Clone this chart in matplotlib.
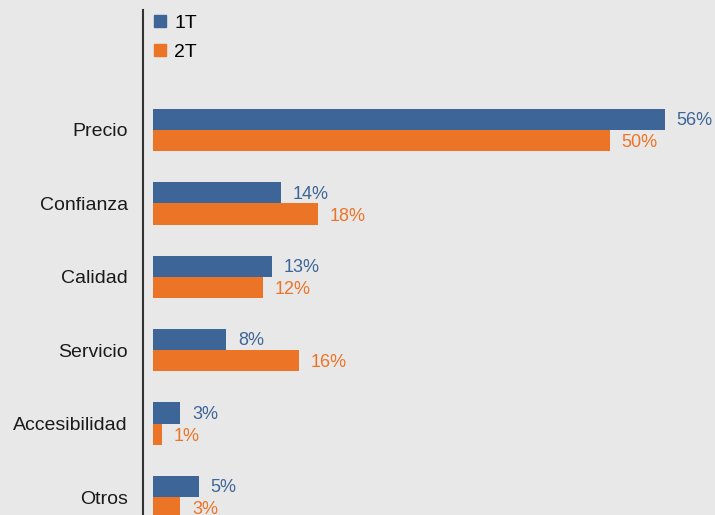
import matplotlib.pyplot as plt
from matplotlib.patches import Patch
import numpy as np

plt.rcParams['font.family'] = ['Liberation Sans', 'DejaVu Sans']

# Data
categories = ['Precio', 'Confianza', 'Calidad', 'Servicio', 'Accesibilidad', 'Otros']
t1 = [56, 14, 13, 8, 3, 5]
t2 = [50, 18, 12, 16, 1, 3]
series_names = ['1T', '2T']

blue = '#3e6597'
orange = '#ec7426'
bg = '#e8e8e8'

fig = plt.figure(figsize=(7.15, 5.15), dpi=100, facecolor=bg)
# axes: left edge at the vertical line, full to right and bottom
ax = fig.add_axes([143 / 715, 0, 1 - 143 / 715, 1 - 10 / 515])
ax.set_facecolor(bg)

y = np.arange(len(categories))
h = 0.29
ax.barh(y - h / 2, t1, height=h, color=blue)
ax.barh(y + h / 2, t2, height=h, color=orange)

# Value labels
for i in range(len(categories)):
    ax.annotate(f'{t1[i]}%', (t1[i], y[i] - h / 2), xytext=(8.5, -1),
                textcoords='offset points', va='center', ha='left',
                fontsize=13, color=blue)
    ax.annotate(f'{t2[i]}%', (t2[i], y[i] + h / 2), xytext=(8.5, -1.5),
                textcoords='offset points', va='center', ha='left',
                fontsize=13, color=orange)

# Scales
ax.set_xlim(-10 / 9.14, (715 - 153) / 9.14)
ax.set_ylim((515 - 130) / 73.4, (10 - 130) / 73.4)

ax.set_yticks(y)
ax.set_yticklabels(categories, fontsize=14, color='#1a1a1a')
ax.tick_params(axis='y', length=0, pad=11)
ax.set_xticks([])

for s in ['top', 'right', 'bottom']:
    ax.spines[s].set_visible(False)
ax.spines['left'].set_color('#333333')
ax.spines['left'].set_linewidth(1.5)

# Legend
handles = [Patch(color=blue), Patch(color=orange)]
ax.legend(handles, series_names, loc='upper left', bbox_to_anchor=(154 / 715, 1 - 15 / 515),
          bbox_transform=fig.transFigure, frameon=False, fontsize=14,
          handlelength=0.6, handleheight=0.6, handletextpad=0.45, labelspacing=0.6,
          borderaxespad=0, borderpad=0)

plt.savefig('out.png', dpi=100, facecolor=bg)
